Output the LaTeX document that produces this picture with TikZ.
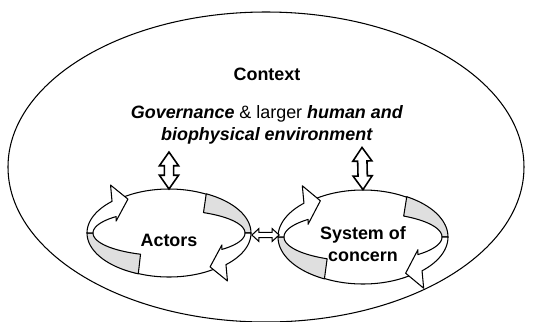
\documentclass[tikz,border=0pt]{standalone}
\usepackage{fontspec}
\setmainfont{Liberation Sans}
\usetikzlibrary{calc,positioning,shapes.geometric,shapes.arrows}

\begin{document}
\begin{tikzpicture}[
	x=0.02cm, y=-0.02cm,
	align=center,
	line width=0.6pt,
	txt/.style={font=\bfseries\fontsize{10.2}{12.5}\selectfont, inner sep=0pt},
	ring/.style={draw, line width=0.6pt},
	back/.style={draw, fill=gray!25, line width=0.6pt, line join=round},
	front/.style={draw, fill=white, line width=0.6pt, line join=round},
	linkit/.style={double arrow, draw, fill=white, sloped, inner xsep=0pt,
		double arrow tip angle=70, line width=#1},
	linkit/.default=0.9pt
	]
	\useasboundingbox (0,0) rectangle (539,322);
	% context
	\draw[ring] (266,167) ellipse [x radius=258, y radius=155];
	\node[txt] (context) at (267,74) {Context};
	\node[txt] (env) at (267,125) {\textit{Governance} \textmd{\& larger} \textit{human and}\\\textit{biophysical environment}};

	% cycles
	\foreach \nm/\cx/\cy/\rx/\ry/\gt/\gb in {actors/169/233/79/44/63/248, concern/363/237/82/47/59/243} {
	\begin{scope}[shift={(\cx,\cy)}]
		\pgfmathsetmacro\ro{\rx+3}
		\pgfmathsetmacro\ri{\rx-3}
		\pgfmathsetmacro\qi{0.52*\ry}
		\draw[ring] (0,0) ellipse [x radius=\rx, y radius=\ry];
		\coordinate (\nm N) at (0,-\ry);
		\coordinate (\nm E) at (\rx,0);
		\coordinate (\nm W) at (-\rx,0);
		% back of the ribbon
		\filldraw[back] plot[domain=\gt:0, variable=\t, samples=25] ({\ro*cos(\t)},{-\ry*sin(\t)})
			-- plot[domain=0:\gt, variable=\t, samples=25] ({\ri*cos(\t)},{-\qi*sin(\t)}) -- cycle;
		\filldraw[back] plot[domain=180:\gb, variable=\t, samples=25] ({\ro*cos(\t)},{-\ry*sin(\t)})
			-- plot[domain=\gb:180, variable=\t, samples=25] ({\ri*cos(\t)},{-\qi*sin(\t)}) -- cycle;
		% front of the ribbon
		\filldraw[front] plot[domain=0:-46, variable=\t, samples=25] ({\ro*cos(\t)},{-\ry*sin(\t)})
			-- ({.74*\rx},{1.09*\ry}) -- ({.52*\rx},{.77*\ry}) -- ({.67*\rx},{.27*\ry})
			-- plot[domain=-46:0, variable=\t, samples=25] ({\ri*cos(\t)},{-\qi*sin(\t)}) -- cycle;
		\filldraw[front] plot[domain=180:134, variable=\t, samples=25] ({\ro*cos(\t)},{-\ry*sin(\t)})
			-- ({-.74*\rx},{-1.09*\ry}) -- ({-.52*\rx},{-.77*\ry}) -- ({-.67*\rx},{-.27*\ry})
			-- plot[domain=134:180, variable=\t, samples=25] ({\ri*cos(\t)},{-\qi*sin(\t)}) -- cycle;
	\end{scope}
	}
	\node[txt] (actors) at (169,240) {Actors};
	\node[txt] (concern) at (363,244) {System of\\concern};

	% links
	\coordinate (envA) at (169,152);
	\coordinate (envB) at (362,147);
	\path (envA) -- (actorsN) node[linkit, midway, inner ysep=2.2pt, double arrow head extend=2.8pt, minimum height=21pt] (linkA) {};
	\path (envB) -- (concernN) node[linkit, midway, inner ysep=2.2pt, double arrow head extend=2.8pt, minimum height=24pt] (linkB) {};
	\path ($(actorsE)+(0,2)$) -- ($(actorsE -| concernW)+(2,2)$) node[linkit=0.6pt, midway, inner ysep=1.2pt, double arrow head extend=2.1pt, double arrow tip angle=85, minimum height=15.5pt] (linkC) {};
\end{tikzpicture}
\end{document}
